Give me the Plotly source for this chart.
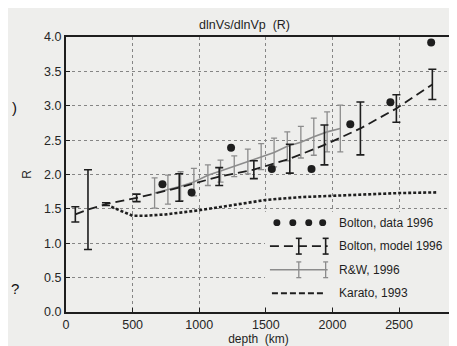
import plotly.graph_objects as go

# ---------------- data ----------------
data_depth = [724, 943, 1239, 1545, 1843, 2134, 2435, 2741]
data_R = [1.86, 1.74, 2.39, 2.08, 2.08, 2.73, 3.05, 3.92]

model_depth = [70, 165, 300, 530, 850, 1150, 1410, 1680, 1940, 2210, 2480, 2750]
model_R = [1.42, 1.49, 1.57, 1.66, 1.81, 1.97, 2.07, 2.23, 2.43, 2.67, 2.96, 3.31]
model_err = [0.11, 0.58, 0.02, 0.055, 0.2, 0.13, 0.13, 0.21, 0.29, 0.385, 0.2, 0.22]

rw_depth = [665, 765, 860, 960, 1065, 1160, 1263, 1365, 1465, 1562, 1661, 1763, 1860, 1960, 2059]
rw_R = [1.73, 1.78, 1.83, 1.89, 1.99, 2.05, 2.12, 2.19, 2.26, 2.32, 2.41, 2.47, 2.55, 2.62, 2.67]
rw_err = [0.22, 0.21, 0.21, 0.2, 0.15, 0.16, 0.15, 0.18, 0.19, 0.21, 0.21, 0.23, 0.27, 0.29, 0.34]

karato_depth = [340, 420, 500, 600, 750, 1000, 1250, 1500, 1750, 2000, 2250, 2500, 2780]
karato_R = [1.53, 1.46, 1.40, 1.40, 1.42, 1.48, 1.56, 1.63, 1.67, 1.69, 1.71, 1.73, 1.74]

x_ticks = [0, 500, 1000, 1500, 2000, 2500]
y_ticks = [0.0, 0.5, 1.0, 1.5, 2.0, 2.5, 3.0, 3.5, 4.0]

legend_labels = ["Bolton, data 1996", "Bolton, model 1996", "R&W, 1996", "Karato, 1993"]
title_text = "dlnVs/dlnVp  (R)"

DARK = "#1e1e1e"
GRAY = "#8c8c8c"
BG = "#eeeeec"
FONT = "Liberation Sans, Arial, sans-serif"

fig = go.Figure()

fig.add_trace(go.Scatter(
    x=karato_depth, y=karato_R, mode="lines",
    line=dict(color=DARK, width=2.6, dash="3px,2px"), showlegend=False))

fig.add_trace(go.Scatter(
    x=rw_depth, y=rw_R, mode="lines",
    line=dict(color=GRAY, width=1.6),
    error_y=dict(type="data", array=rw_err, color=GRAY, thickness=1.3, width=3),
    showlegend=False))

fig.add_trace(go.Scatter(
    x=model_depth, y=model_R, mode="lines",
    line=dict(color=DARK, width=1.8, dash="9px,5px"),
    error_y=dict(type="data", array=model_err, color=DARK, thickness=1.6, width=4),
    showlegend=False))

fig.add_trace(go.Scatter(
    x=data_depth, y=data_R, mode="markers",
    marker=dict(color=DARK, size=8), showlegend=False))

# ---------------- geometry of plot area (px) ----------------
W, H = 457, 346
L, R, T, B = 58, 12, 29, 37
pw, ph = W - L - R, H - T - B


def px2paper(px, py):
    return (px - L) / pw, (H - B - py) / ph


shapes = []
annotations = []

# opaque legend background (hides the grid under the legend)
bx0, by0 = px2paper(258, 304)
bx1, by1 = px2paper(443, 207)
shapes.append(dict(type="rect", xref="paper", yref="paper", x0=bx0, y0=by0, x1=bx1, y1=by1,
                   fillcolor=BG, line=dict(width=0), layer="above"))

# legend, drawn by hand at lower right
rows_y = [218, 242, 266, 290]
text_x = 330
for lab, ry in zip(legend_labels, rows_y):
    xp, yp = px2paper(text_x, ry)
    annotations.append(dict(x=xp, y=yp, xref="paper", yref="paper", text=lab,
                            showarrow=False, xanchor="left", yanchor="middle",
                            font=dict(family=FONT, size=12, color=DARK)))

# row 1: four dots
for dx in [270, 286, 302, 316]:
    x0, y0 = px2paper(dx - 3.5, rows_y[0] + 3.5)
    x1, y1 = px2paper(dx + 3.5, rows_y[0] - 3.5)
    shapes.append(dict(type="circle", xref="paper", yref="paper", x0=x0, y0=y0, x1=x1, y1=y1,
                       fillcolor=DARK, line=dict(color=DARK, width=0)))

# row 2: dashed line with bars
x0, yy = px2paper(263, rows_y[1])
x1, _ = px2paper(321, rows_y[1])
shapes.append(dict(type="line", xref="paper", yref="paper", x0=x0, y0=yy, x1=x1, y1=yy,
                   line=dict(color=DARK, width=1.8, dash="9px,5px")))
for bx in [292, 319]:
    for (a, b) in [((bx, rows_y[1] - 8), (bx, rows_y[1] + 8)),
                   ((bx - 3, rows_y[1] - 8), (bx + 3, rows_y[1] - 8)),
                   ((bx - 3, rows_y[1] + 8), (bx + 3, rows_y[1] + 8))]:
        xa, ya = px2paper(*a)
        xb, yb = px2paper(*b)
        shapes.append(dict(type="line", xref="paper", yref="paper", x0=xa, y0=ya, x1=xb, y1=yb,
                           line=dict(color=DARK, width=1.6)))

# row 3: gray line with bars
x0, yy = px2paper(263, rows_y[2])
x1, _ = px2paper(321, rows_y[2])
shapes.append(dict(type="line", xref="paper", yref="paper", x0=x0, y0=yy, x1=x1, y1=yy,
                   line=dict(color=GRAY, width=1.5)))
for bx in [292, 319]:
    for (a, b) in [((bx, rows_y[2] - 8), (bx, rows_y[2] + 8)),
                   ((bx - 2.5, rows_y[2] - 8), (bx + 2.5, rows_y[2] - 8)),
                   ((bx - 2.5, rows_y[2] + 8), (bx + 2.5, rows_y[2] + 8))]:
        xa, ya = px2paper(*a)
        xb, yb = px2paper(*b)
        shapes.append(dict(type="line", xref="paper", yref="paper", x0=xa, y0=ya, x1=xb, y1=yb,
                           line=dict(color=GRAY, width=1.3)))

# row 4: short dashes
x0, yy = px2paper(265, rows_y[3])
x1, _ = px2paper(319, rows_y[3])
shapes.append(dict(type="line", xref="paper", yref="paper", x0=x0, y0=yy, x1=x1, y1=yy,
                   line=dict(color=DARK, width=2, dash="6px,3px")))

# title
xp, yp = px2paper(237, 17)
annotations.append(dict(x=xp, y=yp, xref="paper", yref="paper", text=title_text,
                        showarrow=False, xanchor="center", yanchor="middle",
                        font=dict(family=FONT, size=12.5, color=DARK)))

# stray scan marks at the left edge
for ch, (cx, cy) in [(")", (6, 101)), ("?", (7, 285))]:
    xp, yp = px2paper(cx, cy)
    annotations.append(dict(x=xp, y=yp, xref="paper", yref="paper", text=ch,
                            showarrow=False, xanchor="center", yanchor="middle",
                            font=dict(family=FONT, size=15, color="#111")))

axis_common = dict(
    showline=True, linecolor=DARK, linewidth=2, mirror=True,
    showgrid=True, gridcolor="#858585", griddash="dot", gridwidth=1.2,
    ticks="inside", ticklen=4, tickcolor=DARK,
    tickfont=dict(family=FONT, size=12.5, color="#262626"),
    zeroline=False,
)

fig.update_layout(
    width=W, height=H,
    margin=dict(l=L, r=R, t=T, b=B),
    paper_bgcolor=BG, plot_bgcolor=BG,
    shapes=shapes, annotations=annotations,
    xaxis=dict(range=[0, 2890], tickvals=x_ticks, ticktext=[str(v) for v in x_ticks],
               title=dict(text="depth  (km)", font=dict(family=FONT, size=12, color=DARK), standoff=2),
               **axis_common),
    yaxis=dict(range=[0, 4.0], tickvals=y_ticks, ticktext=[f"{v:.1f}" for v in y_ticks],
               title=dict(text="R", font=dict(family=FONT, size=12, color=DARK), standoff=10),
               **axis_common),
)

fig.write_html("out.html")
